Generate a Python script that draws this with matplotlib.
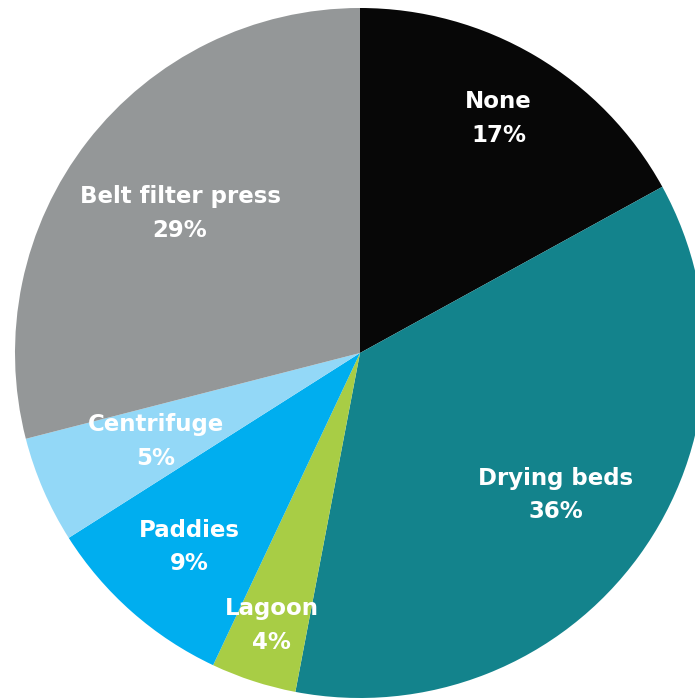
import matplotlib
matplotlib.use("Agg")
import matplotlib.pyplot as plt
import numpy as np

# slice data, clockwise from 12 o'clock
labels = ["None", "Drying beds", "Lagoon", "Paddies", "Centrifuge", "Belt filter press"]
shares = [17, 36, 4, 9, 5, 29]
colors = ["#070707", "#13838C", "#A8CD45", "#00AEEF", "#93D8F7", "#949798"]
label_r = [0.79, 0.70, 0.83, 0.75, 0.645, 0.66]

fig = plt.figure(figsize=(6.95, 7.0), dpi=100)
ax = fig.add_axes([0, 0, 1, 1])

wedges, _ = ax.pie(shares, colors=colors, startangle=90, counterclock=False,
                   radius=1.0, wedgeprops=dict(linewidth=0))

for w, lab, val, r in zip(wedges, labels, shares, label_r):
    ang = np.deg2rad((w.theta1 + w.theta2) / 2)
    ax.text(r * np.cos(ang), r * np.sin(ang), "%s\n%d%%" % (lab, val),
            ha="center", va="center", color="white", fontsize=16.5,
            fontweight="bold", family=["DejaVu Sans"], linespacing=1.6)

# pie is cut at right and bottom edges
ax.set_xlim(-360 / 345, 335 / 345)
ax.set_ylim(-347 / 345, 353 / 345)
ax.set_aspect("equal")
ax.axis("off")

fig.savefig("out.png", dpi=100)
